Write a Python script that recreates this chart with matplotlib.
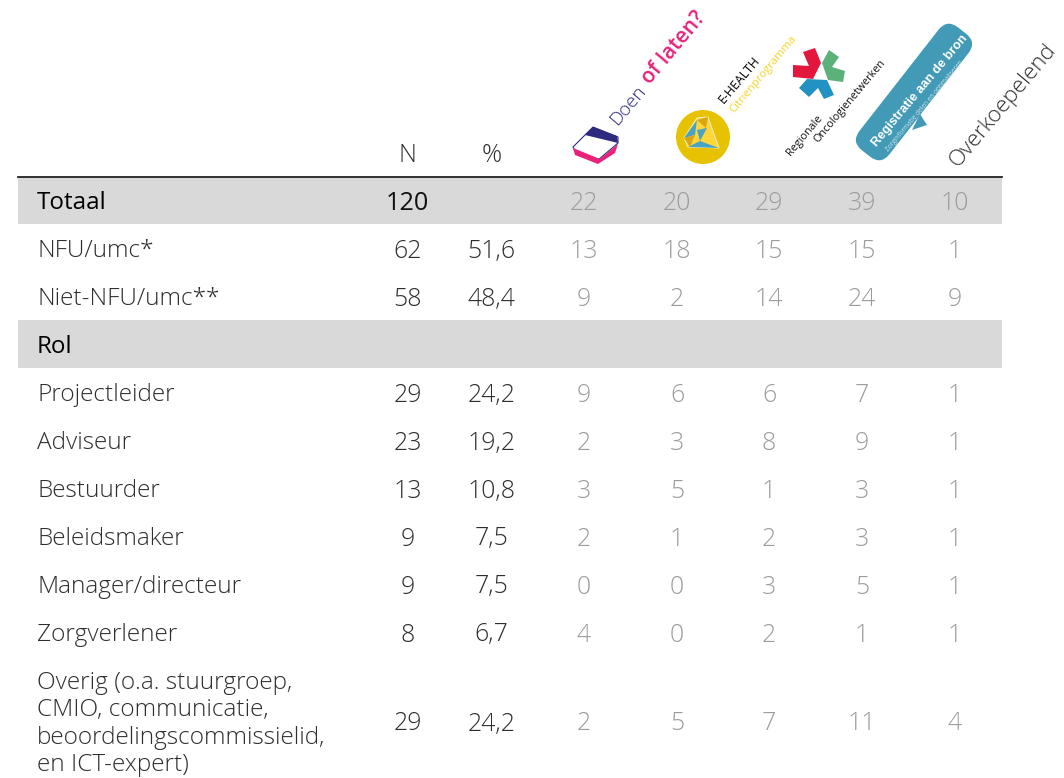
import matplotlib
matplotlib.use("Agg")
import matplotlib.pyplot as plt
from matplotlib.patches import Polygon, Circle, Rectangle, FancyBboxPatch
from matplotlib.transforms import Affine2D

row_labels = ["Totaal", "NFU/umc*", "Niet-NFU/umc**", "Rol", "Projectleider", "Adviseur",
              "Bestuurder", "Beleidsmaker", "Manager/directeur", "Zorgverlener",
              "Overig (o.a. stuurgroep,\nCMIO, communicatie,\nbeoordelingscommissielid,\nen ICT-expert)"]
n_values = ["120", "62", "58", "", "29", "23", "13", "9", "9", "8", "29"]
pct_values = ["", "51,6", "48,4", "", "24,2", "19,2", "10,8", "7,5", "7,5", "6,7", "24,2"]
doen = ["22", "13", "9", "", "9", "2", "3", "2", "0", "4", "2"]
ehealth = ["20", "18", "2", "", "6", "3", "5", "1", "0", "0", "5"]
roc = ["29", "15", "14", "", "6", "8", "1", "2", "3", "2", "7"]
registratie = ["39", "15", "24", "", "7", "9", "3", "3", "5", "1", "11"]
overkoepelend = ["10", "1", "9", "", "1", "1", "1", "1", "1", "1", "4"]

row_y = [203, 251, 299, 347, 395, 443, 491, 539, 587, 635, 724]
col_x = [407.5, 491.5, 584, 677, 769, 862, 955]
BLACK = "#111111"; DARK = "#2e2e2e"; GREY = "#9c9c9c"; BAND = "#d9d9d9"
FS = 17.9
FS_LABEL = 17.6
ANG = 50

plt.rcParams["font.family"] = ["Open Sans", "DejaVu Sans"]
fig = plt.figure(figsize=(10.64, 7.78), dpi=100)
ax = fig.add_axes([0, 0, 1, 1])
ax.set_xlim(0, 1064); ax.set_ylim(778, 0); ax.axis("off")

ax.add_patch(Rectangle((18, 177), 984, 47, fc=BAND, ec="none"))
ax.add_patch(Rectangle((18, 320), 984, 48, fc=BAND, ec="none"))
ax.plot([18, 1002], [176.5, 176.5], color="#222222", lw=1.3)

ax.text(col_x[0], 155, "N", ha="center", va="center", fontsize=FS, color=DARK, fontweight="light")
ax.text(col_x[1], 155, "%", ha="center", va="center", fontsize=FS, color=DARK, fontweight="light")

columns = [n_values, pct_values, doen, ehealth, roc, registratie, overkoepelend]
for i, (label, y) in enumerate(zip(row_labels, row_y)):
    bold = i in (0, 3)
    ax.text(37, y, label, ha="left", va="center", fontsize=17.4 if bold else FS_LABEL,
            color="black" if bold else DARK, linespacing=1.2,
            fontweight="regular" if bold else "light")
    for j, col in enumerate(columns):
        c = (BLACK if bold else DARK) if j < 2 else GREY
        ax.text(col_x[j], y, col[i], ha="center", va="center",
                fontsize=18.2 if (bold and j < 2) else FS, color=c,
                fontweight="regular" if (bold and j < 2) else "light")

# Doen of laten
NAVY = "#2e2a7f"; PINK = "#e8217a"
ax.add_patch(Polygon([(573, 147), (593, 127), (618, 137), (618, 143), (598, 160), (575, 151)], closed=True,
                     fc="white", ec=NAVY, lw=0.8))
ax.add_patch(Polygon([(585, 135), (593, 127), (617, 136), (618, 143)], closed=True, fc=NAVY, ec="none"))
ax.add_patch(Polygon([(573, 148), (600, 159), (618, 144), (615, 153), (598, 164), (575, 155)], closed=True, fc=PINK, ec="none"))
ax.text(617, 126, "Doen", rotation=ANG, rotation_mode="anchor", ha="left", va="baseline", fontsize=13.5, color=NAVY, fontweight="light")
ax.text(650, 85, "of laten?", rotation=ANG, rotation_mode="anchor", ha="left", va="baseline", fontsize=15.2, color=PINK, fontweight="semibold")

# E-Health
ax.add_patch(Circle((703, 137), 27, fc="#e6c200", ec="none"))
ax.add_patch(Polygon([(684, 138), (697, 118), (708, 117), (719, 148), (688, 147)], closed=True, fc="#ffd63a", ec="#f5f0d0", lw=0.7))
ax.add_patch(Polygon([(684, 138), (697, 120), (695, 135)], closed=True, fc="#4aa3c4", ec="none"))
ax.add_patch(Polygon([(688, 147), (719, 148), (700, 141)], closed=True, fc="#4aa3c4", ec="none"))
ax.add_patch(Polygon([(697, 130), (707, 128), (700, 141)], closed=True, fc="#4aa3c4", ec="none"))
ax.add_patch(Polygon([(708, 117), (719, 148), (712, 128)], closed=True, fc="#d9a514", ec="none"))
ax.add_patch(Polygon([(697, 120), (708, 117), (706, 128)], closed=True, fc="#d9a514", ec="none"))
ax.add_patch(Polygon([(684, 138), (695, 135), (690, 147)], closed=True, fc="#d9a514", ec="none"))
ax.text(724, 104, "E-HEALTH", rotation=ANG, rotation_mode="anchor", ha="left", va="baseline", fontsize=8.8, color="black")
ax.text(734, 113, "Citrienprogramma", rotation=ANG, rotation_mode="anchor", ha="left", va="baseline", fontsize=8.1, color="#f5d327")

# Regionale Oncologienetwerken
RED = "#e3173e"; GREEN = "#5cb07a"; BLUE = "#2192c1"
ax.add_patch(Polygon([(793, 65), (793, 77), (813, 79), (821, 63), (815, 48), (803, 52), (809, 66)], closed=True, fc=RED, ec="none"))
ax.add_patch(Polygon([(829, 50), (839, 57), (832, 67), (845, 71), (843, 82), (828, 80), (822, 63)], closed=True, fc=GREEN, ec="none"))
ax.add_patch(Polygon([(799, 88), (809, 97), (818, 88), (824, 99), (834, 95), (827, 80), (807, 79)], closed=True, fc=BLUE, ec="none"))
ax.text(791, 156, "Regionale", rotation=ANG, rotation_mode="anchor", ha="left", va="baseline", fontsize=7.8, color=BLACK)
ax.text(818, 143, "Oncologienetwerken", rotation=ANG, rotation_mode="anchor", ha="left", va="baseline", fontsize=7.8, color=BLACK)

# Registratie aan de bron
TEAL = "#429ab6"
bubble = FancyBboxPatch((836, 73), 156, 38, boxstyle="round,pad=0,rounding_size=14", fc=TEAL, ec="none")
bubble.set_transform(Affine2D().rotate_deg_around(914, 92, -52) + ax.transData)
ax.add_patch(bubble)
ax.add_patch(Polygon([(912, 130), (927, 125), (920, 114)], closed=True, fc=TEAL, ec="none"))
ax.text(877, 147, "Registratie aan de bron", rotation=ANG, rotation_mode="anchor", ha="left", va="baseline",
        fontsize=9.2, color="white", fontweight="bold", family=["Liberation Sans"])
ax.text(888, 152, "Zorginformatie delen en optimaliseren", rotation=ANG, rotation_mode="anchor", ha="left", va="baseline",
        fontsize=4.7, color="#cfe6ee")

# Overkoepelend
ax.text(958, 168, "Overkoepelend", rotation=ANG, rotation_mode="anchor", ha="left", va="baseline", fontsize=16.2, color=DARK, fontweight="light")

fig.savefig("out.png", dpi=100)
